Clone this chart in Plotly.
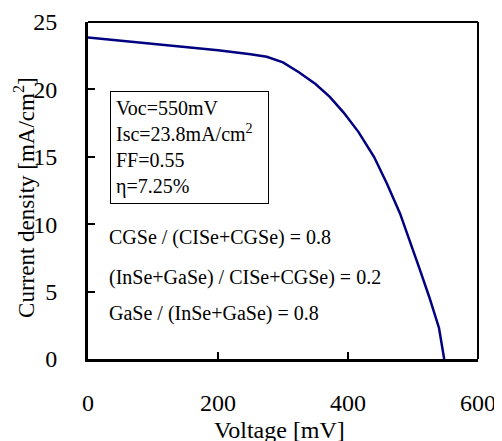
import plotly.graph_objects as go

# Data
voltage_mV = [0, 50, 100, 150, 200, 250, 275, 300, 325, 350, 372, 393, 416, 440, 460, 480, 495, 510, 525, 540, 548]
current_density = [23.85, 23.62, 23.38, 23.14, 22.9, 22.6, 22.42, 22.0, 21.25, 20.4, 19.45, 18.3, 16.85, 15.0, 13.0, 10.8, 8.8, 6.7, 4.6, 2.3, 0.0]

x_ticks = [0, 200, 400, 600]
y_ticks = [0, 5, 10, 15, 20, 25]

x_title = "Voltage [mV]"
y_title = "Current density [mA/cm<sup>2</sup>]"

cell_params = ["Voc=550mV", "Isc=23.8mA/cm<sup>2</sup>\u00a0\u00a0", "FF=0.55", "η=7.25%"]
composition_lines = [
    "CGSe / (CISe+CGSe) = 0.8",
    "(InSe+GaSe) / CISe+CGSe) = 0.2",
    "GaSe / (InSe+GaSe) = 0.8",
]
composition_y = [8.98, 6.08, 3.41]

FONT = "Liberation Serif"

fig = go.Figure()
fig.add_trace(go.Scatter(
    x=voltage_mV, y=current_density, mode="lines",
    line=dict(color="#000080", width=2.5),
    showlegend=False,
))

fig.update_layout(
    width=494, height=433,
    margin=dict(l=80, r=24, t=14, b=82, autoexpand=False),
    paper_bgcolor="white", plot_bgcolor="white",
    font=dict(family=FONT, size=24, color="black"),
    xaxis=dict(
        range=[0, 600], tickvals=x_ticks,
        showgrid=False, zeroline=False,
        showline=True, linecolor="black", linewidth=3,
        ticks="inside", ticklen=7, tickwidth=2, tickcolor="black",
        tickfont=dict(family=FONT, size=24),
        ticklabelstandoff=20,
    ),
    yaxis=dict(
        range=[0, 25], tickvals=y_ticks,
        showgrid=False, zeroline=False,
        showline=True, linecolor="black", linewidth=3,
        ticks="inside", ticklen=7, tickwidth=2, tickcolor="black",
        tickfont=dict(family=FONT, size=24),
        ticklabelstandoff=23,
    ),
)

# thinner top and right frame lines
fig.add_shape(type="line", xref="paper", yref="paper", x0=0, x1=1, y0=1, y1=1,
              line=dict(color="black", width=2))
fig.add_shape(type="line", xref="paper", yref="paper", x0=1, x1=1, y0=0, y1=1,
              line=dict(color="black", width=2))

# axis titles
fig.add_annotation(
    x=0.492, y=-0.211, xref="paper", yref="paper", xanchor="center", yanchor="middle",
    text=x_title, showarrow=False, font=dict(family=FONT, size=24, color="black"),
)
fig.add_annotation(
    x=-0.1615, y=0.478, xref="paper", yref="paper", xanchor="center", yanchor="middle",
    text=y_title, showarrow=False, textangle=-90,
    font=dict(family=FONT, size=23, color="black"),
)

fig.add_annotation(
    x=33.8, y=19.88, xref="x", yref="y", xanchor="left", yanchor="top",
    text="<br>".join(cell_params), showarrow=False, align="left",
    font=dict(family=FONT, size=20, color="black"),
    bordercolor="black", borderwidth=1, borderpad=5,
)

for txt, yv in zip(composition_lines, composition_y):
    fig.add_annotation(
        x=29.2, y=yv, xref="x", yref="y", xanchor="left", yanchor="middle",
        text=txt, showarrow=False, align="left",
        font=dict(family=FONT, size=20, color="black"),
    )

fig.write_html("out.html")
